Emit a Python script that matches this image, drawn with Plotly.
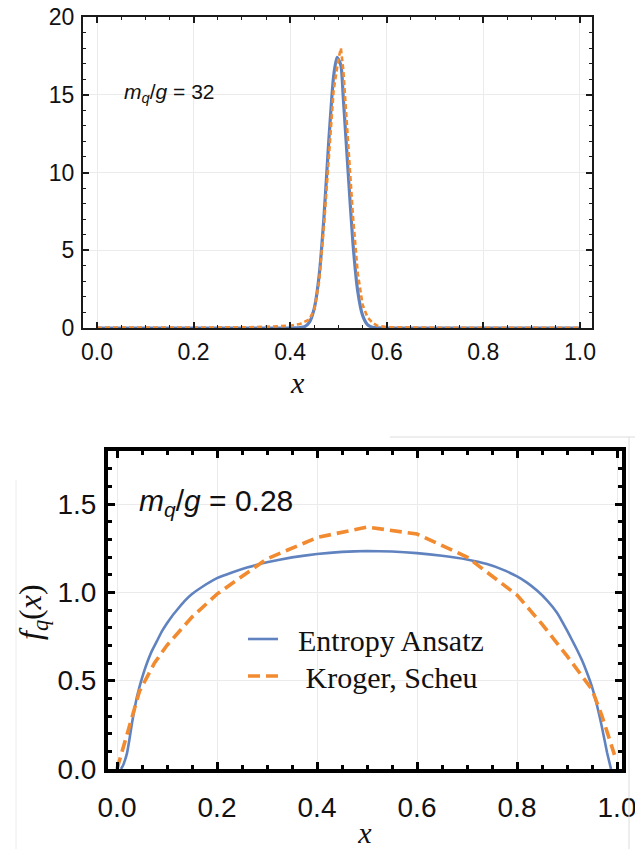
import plotly.graph_objects as go

W, H = 635, 849

# ---------------- top panel data (m_q/g = 32) ----------------
top_x_entropy = [0.0, 0.1, 0.2, 0.3, 0.38, 0.41, 0.42, 0.43, 0.44, 0.45, 0.46, 0.47, 0.48,
                 0.49, 0.497, 0.505, 0.51, 0.52, 0.53, 0.54, 0.55, 0.56, 0.57, 0.58,
                 0.6, 0.7, 0.8, 0.9, 1.0]
top_y_entropy = [0.0, 0.0, 0.0, 0.0, 0.0, 0.01, 0.03, 0.09, 0.38, 1.28, 3.38, 7.15, 12.06,
                 16.2, 17.4, 16.9, 14.8, 10.05, 5.45, 2.35, 0.81, 0.22, 0.05, 0.01,
                 0.0, 0.0, 0.0, 0.0, 0.0]

top_x_kroger = [0.0, 0.1, 0.2, 0.3, 0.35, 0.4, 0.42, 0.44, 0.45, 0.46, 0.47, 0.48, 0.49,
                0.5, 0.505, 0.51, 0.52, 0.53, 0.54, 0.55, 0.56, 0.57, 0.58, 0.6,
                0.7, 0.8, 0.9, 1.0]
top_y_kroger = [0.02, 0.02, 0.02, 0.04, 0.08, 0.15, 0.25, 0.55, 1.2, 3.0, 6.6, 11.3, 15.3,
                17.3, 18.0, 16.6, 12.2, 7.2, 3.5, 1.5, 0.7, 0.35, 0.15, 0.05,
                0.02, 0.02, 0.02, 0.02]

# ---------------- bottom panel data (m_q/g = 0.28) ----------------
bot_x_entropy = [0.008, 0.012, 0.016, 0.02, 0.025, 0.03, 0.035, 0.04, 0.045, 0.05, 0.055,
                 0.06, 0.07, 0.08, 0.09, 0.1, 0.11, 0.12, 0.135, 0.15, 0.17, 0.2, 0.23,
                 0.26, 0.3, 0.35, 0.4, 0.45, 0.5, 0.55, 0.6, 0.65, 0.7, 0.74, 0.77, 0.8,
                 0.82, 0.84, 0.86, 0.88, 0.9, 0.91, 0.92, 0.93, 0.94, 0.95, 0.96, 0.965,
                 0.97, 0.975, 0.98, 0.985, 0.988]
bot_y_entropy = [0.0, 0.02, 0.05, 0.09, 0.17, 0.26, 0.34, 0.41, 0.465, 0.515, 0.56,
                 0.6, 0.67, 0.725, 0.78, 0.825, 0.865, 0.9, 0.95, 0.99, 1.03, 1.08, 1.112,
                 1.14, 1.17, 1.198, 1.217, 1.229, 1.234, 1.231, 1.222, 1.207, 1.186, 1.16,
                 1.13, 1.09, 1.055, 1.01, 0.955, 0.885, 0.785, 0.73, 0.675, 0.615, 0.545,
                 0.465, 0.36, 0.3, 0.235, 0.165, 0.095, 0.035, 0.0]

bot_x_kroger = [0.0, 0.045, 0.075, 0.1, 0.15, 0.2, 0.3, 0.4, 0.5, 0.6, 0.7, 0.8, 0.85,
                0.9, 0.95, 0.97, 0.995]
bot_y_kroger = [0.0, 0.44, 0.6, 0.7, 0.86, 0.99, 1.19, 1.31, 1.37, 1.33, 1.2, 0.985, 0.82,
                0.64, 0.45, 0.3, 0.08]

top_xticks = [0.0, 0.2, 0.4, 0.6, 0.8, 1.0]
top_yticks = [0, 5, 10, 15, 20]
bot_xticks = [0.0, 0.2, 0.4, 0.6, 0.8, 1.0]
bot_yticks = [0.0, 0.5, 1.0, 1.5]

legend_names = ["&nbsp;&nbsp;Entropy Ansatz", "&nbsp;&nbsp;&nbsp;Kroger, Scheu"]

BLUE = "#6083c0"
ORANGE = "#f28a30"

fig = go.Figure()

fig.add_trace(go.Scatter(x=top_x_entropy, y=top_y_entropy, mode="lines",
                         line=dict(color=BLUE, width=3.2, shape="spline", smoothing=0.6),
                         showlegend=False, xaxis="x", yaxis="y"))
fig.add_trace(go.Scatter(x=top_x_kroger, y=top_y_kroger, mode="lines",
                         line=dict(color=ORANGE, width=2.6, dash="5px,3px"),
                         showlegend=False, xaxis="x", yaxis="y"))

fig.add_trace(go.Scatter(x=bot_x_entropy, y=bot_y_entropy, mode="lines", name=legend_names[0],
                         line=dict(color=BLUE, width=2.6, shape="spline", smoothing=0.3),
                         xaxis="x2", yaxis="y2", legend="legend"))
fig.add_trace(go.Scatter(x=bot_x_kroger, y=bot_y_kroger, mode="lines", name=legend_names[1],
                         line=dict(color=ORANGE, width=3.6, dash="12px,6px"),
                         xaxis="x2", yaxis="y2", legend="legend2"))

def px_x(p):
    return p / W

def px_y(p):
    return 1 - p / H

GRID = "#ebebeb"
SANS = "Liberation Sans, Arial, sans-serif"
SERIF = "Liberation Serif, Times New Roman, serif"

top_axis_common = dict(showline=True, linecolor="#1a1a1a", linewidth=2, mirror="allticks",
                       ticks="inside", tickcolor="#1a1a1a", tickwidth=1.6, ticklen=6,
                       showgrid=True, gridcolor=GRID, gridwidth=1, zeroline=False,
                       ticklabeloverflow="allow", automargin=False,
                       tickfont=dict(family=SANS, size=23, color="#111"))
bot_axis_common = dict(showline=True, linecolor="black", linewidth=4, mirror="allticks",
                       ticks="inside", tickcolor="black", tickwidth=3, ticklen=7,
                       showgrid=True, gridcolor=GRID, gridwidth=1, zeroline=False,
                       ticklabeloverflow="allow", automargin=False,
                       tickfont=dict(family=SANS, size=28, color="#111"))

legend_common = dict(xanchor="left", yanchor="middle", bgcolor="rgba(0,0,0,0)",
                     font=dict(family=SERIF, size=30, color="#111"), itemwidth=30)

fig.update_layout(
    width=W, height=H,
    margin=dict(l=0, r=0, t=0, b=0, autoexpand=False),
    paper_bgcolor="white", plot_bgcolor="white",
    xaxis=dict(domain=[px_x(83), px_x(592)], anchor="y", range=[-0.029, 1.025],
               tickvals=top_xticks, ticktext=[f"{v:.1f}" for v in top_xticks],
               minor=dict(dtick=0.05, tick0=0, ticks="inside", ticklen=3, tickwidth=1.4,
                          tickcolor="#1a1a1a", showgrid=False),
               ticklabelstandoff=2, **top_axis_common),
    yaxis=dict(domain=[px_y(328), px_y(17)], anchor="x", range=[0, 20],
               tickvals=top_yticks, ticktext=[str(v) for v in top_yticks],
               minor=dict(dtick=1, tick0=0, ticks="inside", ticklen=3, tickwidth=1.4,
                          tickcolor="#1a1a1a", showgrid=False),
               ticklabelstandoff=2, **top_axis_common),
    xaxis2=dict(domain=[px_x(108), px_x(622)], anchor="y2", range=[-0.018, 1.01],
                tickvals=bot_xticks, ticktext=[f"{v:.1f}" for v in bot_xticks],
                minor=dict(dtick=0.05, tick0=0, ticks="inside", ticklen=4, tickwidth=3,
                           tickcolor="black", showgrid=False),
                ticklabelstandoff=10,
                title=dict(text="<i>x</i>", font=dict(family=SERIF, size=30, color="#111"),
                           standoff=6),
                **bot_axis_common),
    yaxis2=dict(domain=[px_y(769), px_y(451)], anchor="x2", range=[0, 1.8],
                tickvals=bot_yticks, ticktext=[f"{v:.1f}" for v in bot_yticks],
                minor=dict(dtick=0.1, tick0=0, ticks="inside", ticklen=4, tickwidth=3,
                           tickcolor="black", showgrid=False),
                ticklabelstandoff=2, **bot_axis_common),
    legend=dict(x=px_x(243), y=px_y(639), **legend_common),
    legend2=dict(x=px_x(243), y=px_y(676), **legend_common),
)

annotations = [
    dict(text="<i>m</i><sub><i>q</i></sub>/<i>g</i> = 32", x=px_x(169), y=px_y(93),
         xanchor="center", yanchor="middle", xref="paper", yref="paper", showarrow=False,
         font=dict(family=SANS, size=21, color="#111")),
    dict(text="<i>x</i>", x=px_x(297), y=px_y(382), xanchor="center", yanchor="middle",
         xref="paper", yref="paper", showarrow=False,
         font=dict(family=SERIF, size=30, color="#111")),
    dict(text="<i>m</i><sub><i>q</i></sub>/<i>g</i> = 0.28", x=px_x(216), y=px_y(502),
         xanchor="center", yanchor="middle", xref="paper", yref="paper", showarrow=False,
         font=dict(family=SANS, size=30, color="#111")),
    dict(text="<i>f</i><sub><i>q</i></sub>(<i>x</i>)", x=px_x(32), y=px_y(612),
         xanchor="center", yanchor="middle", xref="paper", yref="paper", showarrow=False,
         textangle=-90, font=dict(family=SERIF, size=32, color="#111")),
]
fig.update_layout(annotations=annotations)

# faint screenshot border lines around the lower panel
shapes = [
    dict(type="line", xref="paper", yref="paper", x0=px_x(390), x1=1, y0=px_y(437), y1=px_y(437),
         line=dict(color="#dcdcdc", width=1)),
    dict(type="line", xref="paper", yref="paper", x0=px_x(629), x1=px_x(629), y0=px_y(437), y1=0,
         line=dict(color="#dcdcdc", width=1)),
    dict(type="line", xref="paper", yref="paper", x0=px_x(16), x1=px_x(16), y0=px_y(480), y1=0,
         line=dict(color="#ececec", width=1)),
]
fig.update_layout(shapes=shapes)

fig.write_html("out.html")
